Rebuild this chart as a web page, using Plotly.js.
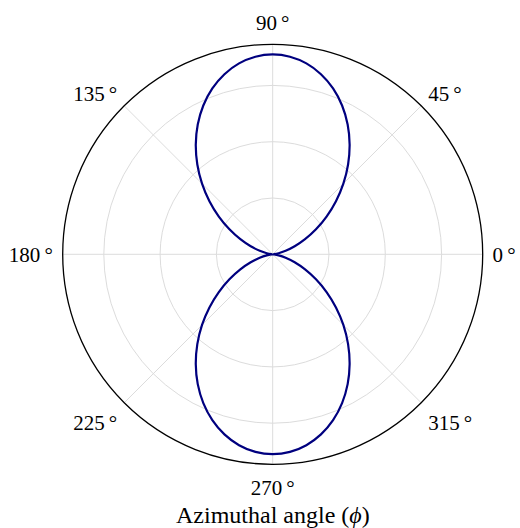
<!DOCTYPE html>
<html>
<head>
<meta charset="utf-8">
<script src="https://cdn.plot.ly/plotly-3.0.1.min.js"></script>
<style>
  html, body { margin: 0; padding: 0; background: #ffffff; }
  #chart { width: 520px; height: 528px; }
</style>
</head>
<body>
<div id="chart"></div>
<script>
// Azimuthal angle of each sample, in degrees
const phiDeg = [
  0, 5, 10, 15, 20, 25, 30, 35, 40, 45, 50, 55, 60, 65, 70, 75, 80, 85,
  90, 95, 100, 105, 110, 115, 120, 125, 130, 135, 140, 145, 150, 155, 160, 165, 170, 175,
  180, 185, 190, 195, 200, 205, 210, 215, 220, 225, 230, 235, 240, 245, 250, 255, 260, 265,
  270, 275, 280, 285, 290, 295, 300, 305, 310, 315, 320, 325, 330, 335, 340, 345, 350, 355,
  360
];

// Radiated intensity at each angle (figure-eight pattern, peaks at 90 and 270 degrees)
const intensity = [
  0.0000, 0.0054, 0.0214, 0.0476, 0.0831, 0.1268, 0.1775, 0.2336, 0.2934, 0.3550,
  0.4166, 0.4764, 0.5325, 0.5832, 0.6269, 0.6624, 0.6886, 0.7046,
  0.7100, 0.7046, 0.6886, 0.6624, 0.6269, 0.5832, 0.5325, 0.4764, 0.4166,
  0.3550, 0.2934, 0.2336, 0.1775, 0.1268, 0.0831, 0.0476, 0.0214, 0.0054,
  0.0000, 0.0054, 0.0214, 0.0476, 0.0831, 0.1268, 0.1775, 0.2336, 0.2934, 0.3550,
  0.4166, 0.4764, 0.5325, 0.5832, 0.6269, 0.6624, 0.6886, 0.7046,
  0.7100, 0.7046, 0.6886, 0.6624, 0.6269, 0.5832, 0.5325, 0.4764, 0.4166,
  0.3550, 0.2934, 0.2336, 0.1775, 0.1268, 0.0831, 0.0476, 0.0214, 0.0054,
  0.0000
];

// Angular tick positions and their labels
const angleTicks = [0, 45, 90, 135, 180, 225, 270, 315];
const angleTickText = angleTicks.map(a => a + '\u2009\u00b0');

// Radial grid circles
const radialTicks = [0.2, 0.4, 0.6];

const axisTitle = 'Azimuthal angle (<i>\u03d5</i>)';

const serif = '"Liberation Serif", "DejaVu Serif", serif';

const W = 520, H = 528;
const cx = 272.7, cy = 254.3, R = 210;

const data = [{
  type: 'scatterpolar',
  mode: 'lines',
  theta: phiDeg,
  r: intensity,
  line: { color: '#00007f', width: 2.2, shape: 'spline' },
  hoverinfo: 'skip'
}];

const layout = {
  width: W,
  height: H,
  margin: { l: 0, r: 0, t: 0, b: 0 },
  paper_bgcolor: '#ffffff',
  showlegend: false,
  font: { family: serif, color: '#000000', size: 21 },
  polar: {
    domain: {
      x: [(cx - R) / W, (cx + R) / W],
      y: [(H - cy - R) / H, (H - cy + R) / H]
    },
    bgcolor: '#ffffff',
    radialaxis: {
      range: [0, 0.746],
      tickmode: 'array',
      tickvals: radialTicks,
      showticklabels: false,
      ticks: '',
      showline: false,
      gridcolor: '#dcdcdc',
      gridwidth: 1
    },
    angularaxis: {
      rotation: 0,
      direction: 'counterclockwise',
      tickmode: 'array',
      tickvals: angleTicks,
      ticktext: angleTickText,
      ticks: 'outside',
      ticklen: 5,
      tickcolor: 'rgba(0,0,0,0)',
      showline: true,
      linecolor: '#000000',
      linewidth: 1.3,
      gridcolor: '#dcdcdc',
      gridwidth: 1,
      tickfont: { family: serif, size: 21, color: '#000000' }
    }
  },
  annotations: [{
    text: axisTitle,
    xref: 'paper', yref: 'paper',
    x: cx / W, y: (H - 515) / H,
    xanchor: 'center', yanchor: 'middle',
    showarrow: false,
    font: { family: serif, size: 24, color: '#000000' }
  }]
};

Plotly.newPlot('chart', data, layout, { displayModeBar: false, staticPlot: true });
</script>
</body>
</html>
